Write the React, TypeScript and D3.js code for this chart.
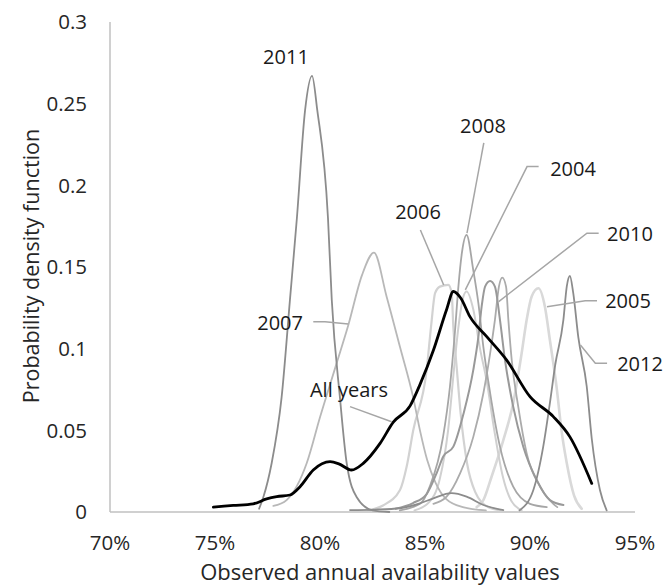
import * as d3 from "d3";

type Pt = [number, number];

// x in percent of availability, y = probability density
const X_TICKS = [70, 75, 80, 85, 90, 95];
const Y_TICKS = [0, 0.05, 0.1, 0.15, 0.2, 0.25, 0.3];

const Y2011: Pt[] = [
  [77.1, 0.002], [77.3, 0.009], [77.7, 0.03], [78.17, 0.07], [78.57, 0.13], [78.9, 0.18],
  [79.29, 0.246], [79.62, 0.267], [79.87, 0.246], [80.38, 0.18], [80.56, 0.13], [80.95, 0.07],
  [81.27, 0.03], [81.75, 0.009], [82.5, 0.001], [83.3, 0],
];
const Y2007: Pt[] = [
  [77.78, 0.0037], [78.41, 0.0073], [79.37, 0.03], [80.0, 0.058], [80.79, 0.091], [81.35, 0.1145],
  [82.0, 0.145], [82.57, 0.1588], [83.17, 0.132], [83.81, 0.101], [84.44, 0.07], [84.76, 0.05],
  [85.1, 0.032], [85.5, 0.018], [86.0, 0.008], [86.8, 0.003], [87.9, 0.001],
];
const Y2006: Pt[] = [
  [82.3, 0.001], [83.0, 0.004], [83.81, 0.0135], [84.13, 0.028], [84.44, 0.05], [85.08, 0.087],
  [85.3, 0.115], [85.48, 0.134], [85.71, 0.138], [86.11, 0.139], [86.27, 0.134], [86.35, 0.113],
  [86.5, 0.09], [86.7, 0.06], [87.0, 0.03], [87.4, 0.012], [88.0, 0.003], [88.6, 0.001],
];
const Y2004: Pt[] = [
  [84.5, 0.001], [85.2, 0.006], [85.7, 0.02], [86.1, 0.05], [86.4, 0.09], [86.59, 0.113],
  [86.83, 0.132], [86.98, 0.135], [87.3, 0.124], [87.62, 0.1], [87.94, 0.08], [88.3, 0.05],
  [88.7, 0.022], [89.1, 0.007], [89.6, 0.001],
];
const Y2008: Pt[] = [
  [83.8, 0.001], [84.76, 0.005], [85.24, 0.016], [85.86, 0.046], [86.19, 0.077], [86.43, 0.111],
  [86.59, 0.138], [86.75, 0.158], [86.98, 0.1696], [87.3, 0.148], [87.54, 0.128], [87.78, 0.101],
  [88.1, 0.073], [88.57, 0.04], [89.2, 0.0155], [90.0, 0.005], [90.8, 0.003],
];
const Y2009: Pt[] = [
  [83.6, 0.002], [84.43, 0.0055], [85.08, 0.011], [85.56, 0.024], [85.87, 0.034], [86.35, 0.04],
  [86.83, 0.06], [87.3, 0.087], [87.54, 0.107], [87.7, 0.126], [87.86, 0.138], [88.1, 0.1414],
  [88.33, 0.138], [88.57, 0.1176], [88.81, 0.093], [89.2, 0.0645], [89.68, 0.04], [90.32, 0.0196],
  [90.95, 0.0073], [91.59, 0.0043],
];
const Y2010: Pt[] = [
  [85.4, 0.005], [86.03, 0.0094], [86.67, 0.0237], [87.3, 0.046], [87.78, 0.0727], [88.1, 0.097],
  [88.33, 0.1176], [88.52, 0.138], [88.68, 0.1435], [88.86, 0.138], [88.97, 0.1176], [89.13, 0.093],
  [89.44, 0.0645], [89.84, 0.036], [90.48, 0.0155], [91.11, 0.005], [91.3, 0.003],
];
const Y2005: Pt[] = [
  [87.46, 0.003], [87.78, 0.0073], [88.17, 0.0216], [88.73, 0.044], [89.2, 0.0666], [89.6, 0.097],
  [89.84, 0.1176], [90.08, 0.132], [90.4, 0.137], [90.71, 0.1257], [90.95, 0.105], [91.1, 0.092],
  [91.27, 0.076], [91.5, 0.05], [91.75, 0.03], [92.1, 0.01], [92.46, 0.002],
];
const Y2012: Pt[] = [
  [89.5, 0.001], [90.16, 0.0135], [90.63, 0.04], [90.95, 0.067], [91.2, 0.09], [91.59, 0.1176],
  [91.75, 0.138], [91.9, 0.1445], [92.06, 0.134], [92.3, 0.107], [92.7, 0.077], [92.94, 0.045],
  [93.33, 0.0135], [93.65, 0.001],
];
const SMALL_BUMP: Pt[] = [
  [81.43, 0.0012], [82.6, 0.0015], [83.81, 0.0023], [84.76, 0.0053], [85.4, 0.0084], [86.27, 0.0115],
  [86.98, 0.0094], [87.78, 0.0043], [88.73, 0.0012],
];
const ALL_YEARS: Pt[] = [
  [74.92, 0.003], [75.87, 0.004], [76.82, 0.005], [77.46, 0.008], [77.94, 0.0094], [78.57, 0.0104],
  [79.05, 0.0155], [79.68, 0.0257], [80.48, 0.0308], [80.9, 0.0295], [81.5, 0.0257], [82.06, 0.0298],
  [82.86, 0.042], [83.49, 0.055], [84.29, 0.065], [84.76, 0.078], [85.4, 0.099], [86.03, 0.124],
  [86.35, 0.135], [86.7, 0.131], [87.14, 0.1196], [87.94, 0.1074], [88.89, 0.093], [90.0, 0.0706],
  [91.11, 0.0584], [91.9, 0.046], [92.94, 0.0175],
];

const SERIES = [
  { name: "2005", data: Y2005, color: "#d9d9d9", width: 2.6 },
  { name: "2006", data: Y2006, color: "#d2d2d2", width: 2.2 },
  { name: "2004", data: Y2004, color: "#d0d0d0", width: 2 },
  { name: "2007", data: Y2007, color: "#b8b8b8", width: 1.8 },
  { name: "2010", data: Y2010, color: "#ababab", width: 1.8 },
  { name: "2008", data: Y2008, color: "#a6a6a6", width: 1.8 },
  { name: "2009", data: Y2009, color: "#999999", width: 2 },
  { name: "bump", data: SMALL_BUMP, color: "#8c8c8c", width: 1.8 },
  { name: "2011", data: Y2011, color: "#8c8c8c", width: 1.8 },
  { name: "2012", data: Y2012, color: "#8c8c8c", width: 1.8 },
  { name: "All years", data: ALL_YEARS, color: "#000000", width: 2.8 },
];

// label anchors and leader lines, in data units
const LABELS: { text: string; at: Pt; leader: Pt[] }[] = [
  { text: "2011", at: [78.38, 0.2786], leader: [] },
  { text: "2008", at: [87.76, 0.2364], leader: [[87.8, 0.226], [87.0, 0.1708]] },
  { text: "2004", at: [92.05, 0.21], leader: [[90.41, 0.2115], [89.86, 0.2115], [86.92, 0.136]] },
  { text: "2006", at: [84.67, 0.1837], leader: [[84.78, 0.1727], [85.89, 0.139]] },
  { text: "2010", at: [94.76, 0.1702], leader: [[93.27, 0.1707], [92.71, 0.1707], [88.51, 0.1288]] },
  { text: "2005", at: [94.67, 0.1292], leader: [[93.19, 0.1294], [92.63, 0.1294], [90.81, 0.1257]] },
  { text: "2012", at: [95.24, 0.0906], leader: [[93.67, 0.0911], [93.11, 0.0911], [92.4, 0.1023]] },
  { text: "2007", at: [78.1, 0.1157], leader: [[79.68, 0.1165], [80.24, 0.1165], [81.35, 0.1151]] },
  { text: "All years", at: [81.38, 0.0747], leader: [[81.43, 0.0645], [83.41, 0.0553]] },
];

const W = 665;
const H = 587;
const FONT = "'Open Sans', 'DejaVu Sans', sans-serif";

export default function App() {
  const x = d3.scaleLinear().domain([70, 95]).range([110, 635]);
  const y = d3.scaleLinear().domain([0, 0.3]).range([512, 22]);

  const line = d3
    .line<Pt>()
    .x((d) => x(d[0]))
    .y((d) => y(d[1]))
    .curve(d3.curveMonotoneX);
  const leader = d3
    .line<Pt>()
    .x((d) => x(d[0]))
    .y((d) => y(d[1]));

  return (
    <svg
      width={W}
      height={H}
      style={{ position: "absolute", left: 0, top: 0, background: "#fff" }}
      fontFamily={FONT}
    >
      <line x1={x(70)} x2={x(70)} y1={y(0.3)} y2={y(0)} stroke="#c0c0c0" strokeWidth={1.5} />
      <line x1={x(70)} x2={x(95)} y1={y(0)} y2={y(0)} stroke="#c0c0c0" strokeWidth={1.5} />

      {Y_TICKS.map((t) => (
        <text key={t} x={87} y={y(t)} dy="0.35em" textAnchor="end" fontSize={20.5} fill="#262626">
          {t}
        </text>
      ))}
      {X_TICKS.map((t) => (
        <text key={t} x={x(t)} y={550} textAnchor="middle" fontSize={20.5} fill="#262626">
          {t}%
        </text>
      ))}

      {SERIES.map((s) => (
        <path
          key={s.name}
          d={line(s.data) ?? ""}
          fill="none"
          stroke={s.color}
          strokeWidth={s.width}
          strokeLinejoin="round"
          strokeLinecap="round"
        />
      ))}

      {LABELS.map((l) => (
        <g key={l.text}>
          {l.leader.length > 0 && (
            <path d={leader(l.leader) ?? ""} fill="none" stroke="#a6a6a6" strokeWidth={1.5} />
          )}
          <text
            x={x(l.at[0])}
            y={y(l.at[1])}
            dy="0.35em"
            textAnchor="middle"
            fontSize={20}
            fill="#1a1a1a"
          >
            {l.text}
          </text>
        </g>
      ))}

      <text x={380} y={580} textAnchor="middle" fontSize={22} fill="#262626">
        Observed annual availability values
      </text>
      <text
        transform="translate(31,266) rotate(-90)"
        dy="0.35em"
        textAnchor="middle"
        fontSize={21.5}
        fill="#262626"
      >
        Probability density function
      </text>
    </svg>
  );
}
